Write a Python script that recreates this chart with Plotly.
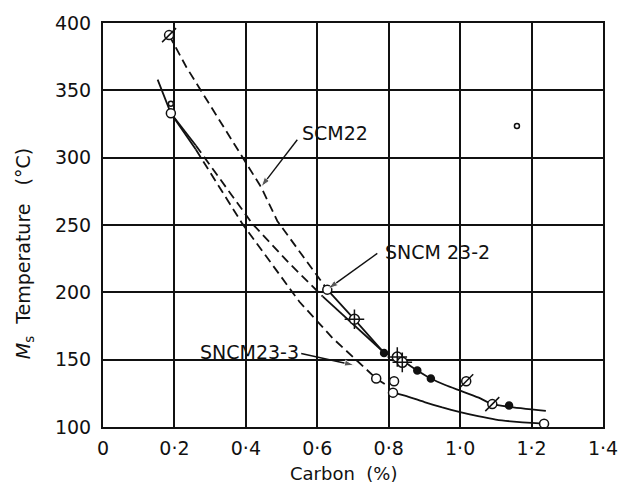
import plotly.graph_objects as go

# ---------------- data ----------------
x_ticks = [0, 0.2, 0.4, 0.6, 0.8, 1.0, 1.2, 1.4]
x_tick_text = ["0", "0·2", "0·4", "0·6", "0·8", "1·0", "1·2", "1·4"]
y_ticks = [100, 150, 200, 250, 300, 350, 400]

# SCM22 curve
scm22_dash_x = [0.185, 0.234, 0.443, 0.488, 0.628]
scm22_dash_y = [391, 367, 278, 253, 202]
scm22_solid_x = [0.628, 0.704, 0.787]
scm22_solid_y = [202, 180, 155]

# SNCM 23-2 curve
sncm232_solid1_x = [0.19, 0.26]
sncm232_solid1_y = [333, 309]
sncm232_dash_x = [0.26, 0.418, 0.52, 0.615]
sncm232_dash_y = [309, 251, 222, 197]
sncm232_solid2_x = [0.615, 0.78]
sncm232_solid2_y = [197, 157]

# SNCM 23-3 curve
sncm233_solid_x = [0.153, 0.19, 0.26]
sncm233_solid_y = [358, 333, 306]
sncm233_dash_x = [0.26, 0.39, 0.55, 0.643, 0.765, 0.80]
sncm233_dash_y = [306, 251, 193, 166, 136, 130]

# solid fitted curves at high carbon
upper_x = [0.824, 0.88, 0.918, 0.96, 1.0, 1.05, 1.09, 1.137, 1.24]
upper_y = [152, 142, 136, 131, 127, 122, 117, 115, 112]
lower_x = [0.812, 0.85, 0.9, 0.95, 1.0, 1.05, 1.1, 1.15, 1.2, 1.235]
lower_y = [125.5, 123, 118.5, 114.5, 111, 108, 105.5, 104, 103, 102.5]

# measured points
open_x = [0.19, 0.628, 0.765, 0.815, 0.812, 1.235]
open_y = [333, 202, 136, 134, 125.5, 102.5]
tiny_x = [0.19, 1.159]
tiny_y = [340, 323.5]
slash_x = [0.185, 1.017, 1.09]
slash_y = [391, 134, 117]
cross_x = [0.704, 0.824, 0.838]
cross_y = [180, 152, 148]
filled_x = [0.787, 0.88, 0.918, 1.137]
filled_y = [155, 142, 136, 116]

# curve labels and their leader lines (tail -> head)
labels = ["SCM22", "SNCM 23-2", "SNCM23-3"]
label_x = [0.650, 0.936, 0.41]
label_y = [318.4, 230.3, 156]
leader_tail_x = [0.544, 0.768, 0.555]
leader_tail_y = [313.3, 228.9, 154.6]
leader_head_x = [0.443, 0.631, 0.703]
leader_head_y = [278.4, 202.7, 145.9]

# ---------------- figure ----------------
FONT = "DejaVu Sans"
BLACK = "#111111"
fig = go.Figure()


def line(x, y, dash="solid", shape="linear"):
    fig.add_trace(go.Scatter(x=x, y=y, mode="lines",
                             line=dict(color=BLACK, width=1.8, dash=dash,
                                       shape=shape, smoothing=0.5),
                             hoverinfo="skip", showlegend=False))


DASH = "9px,5px"
line(scm22_dash_x, scm22_dash_y, DASH)
line(scm22_solid_x, scm22_solid_y)
line(sncm232_solid1_x, sncm232_solid1_y)
line(sncm232_dash_x, sncm232_dash_y, DASH)
line(sncm232_solid2_x, sncm232_solid2_y)
line(sncm233_solid_x, sncm233_solid_y)
line(sncm233_dash_x, sncm233_dash_y, DASH)
line(upper_x, upper_y, shape="spline")
line(lower_x, lower_y, shape="spline")


def markers(x, y, symbol, size, fill="white", lw=1.5):
    fig.add_trace(go.Scatter(x=x, y=y, mode="markers",
                             marker=dict(symbol=symbol, size=size, color=fill,
                                         line=dict(color=BLACK, width=lw)),
                             hoverinfo="skip", showlegend=False))


markers(open_x, open_y, "circle", 9)
markers(tiny_x, tiny_y, "circle", 5)
markers(slash_x, slash_y, "circle", 9)
markers(cross_x, cross_y, "circle", 10)
markers(slash_x, slash_y, "line-ne-open", 14, fill=BLACK)
markers(cross_x, cross_y, "cross-thin-open", 14, fill=BLACK)
markers(filled_x, filled_y, "circle", 7, fill=BLACK)

# leader lines with arrowheads
for tx, ty, hx, hy in zip(leader_tail_x, leader_tail_y, leader_head_x, leader_head_y):
    fig.add_trace(go.Scatter(x=[tx, hx], y=[ty, hy], mode="lines+markers",
                             line=dict(color=BLACK, width=1.4),
                             marker=dict(symbol="arrow", size=[0, 10], color=BLACK,
                                         angleref="previous"),
                             hoverinfo="skip", showlegend=False))

ann_font = dict(family=FONT, size=19, color=BLACK)
for t, lx, ly in zip(labels, label_x, label_y):
    fig.add_annotation(x=lx, y=ly, text=t, showarrow=False, font=ann_font)

# axis titles
fig.add_annotation(xref="paper", yref="paper", x=-0.158, y=0.43,
                   text="<i>M</i><sub>s</sub>\u00a0\u00a0Temperature\u00a0\u00a0\u00a0(°C)",
                   textangle=-90, showarrow=False, font=ann_font,
                   xanchor="center", yanchor="middle")
fig.add_annotation(xref="paper", yref="paper", x=0.48, y=-0.115,
                   text="Carbon\u00a0\u00a0(%)", showarrow=False,
                   font=dict(family=FONT, size=18, color=BLACK),
                   xanchor="center", yanchor="middle")

axis_common = dict(showgrid=True, gridcolor=BLACK, gridwidth=1.6,
                   showline=True, linecolor=BLACK, linewidth=2, mirror=True,
                   ticks="", zeroline=False,
                   tickfont=dict(family=FONT, size=19, color=BLACK))
fig.update_xaxes(range=[0, 1.4], tickvals=x_ticks, ticktext=x_tick_text,
                 ticklabelstandoff=3, **axis_common)
fig.update_yaxes(range=[100, 400], tickvals=y_ticks,
                 ticklabelstandoff=6, **axis_common)

fig.update_layout(width=630, height=486,
                  margin=dict(l=103, r=27, t=15, b=59),
                  paper_bgcolor="white", plot_bgcolor="white",
                  showlegend=False)

fig.write_html("out.html")
